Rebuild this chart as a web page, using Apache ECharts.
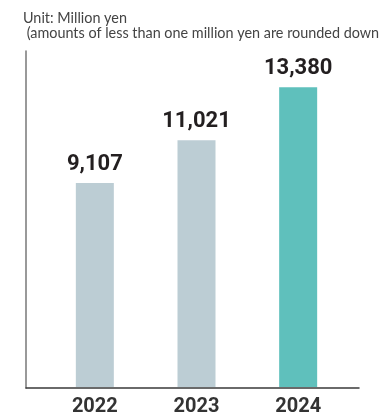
<!DOCTYPE html>
<html>
<head>
<meta charset="utf-8">
<script src="https://cdn.jsdelivr.net/npm/echarts@6/dist/echarts.min.js"></script>
<style>
html,body{margin:0;padding:0;background:#fff;}
#c{width:379px;height:417px;}
</style>
</head>
<body>
<div id="c"></div>
<script>
const categories = ['2022', '2023', '2024'];
const values = [9107, 11021, 13380];
const barColors = ['#bccdd4', '#bccdd4', '#5fc0bc'];
const unitTitle = 'Unit: Million yen';
const unitNote = ' (amounts of less than one million yen are rounded down)';

const chart = echarts.init(document.getElementById('c'), null, {renderer: 'canvas'});
chart.setOption({
  animation: false,
  backgroundColor: '#fff',
  title: {
    text: unitTitle + '\n' + unitNote,
    left: 23,
    top: 11,
    padding: 0,
    textStyle: {
      fontFamily: 'Lato',
      fontSize: 14.4,
      fontWeight: 'normal',
      color: '#444',
      lineHeight: 15
    }
  },
  grid: [
    {left: 26, right: 20, top: 51, bottom: 29},
    {left: 44, right: 30, top: 51, bottom: 29}
  ],
  xAxis: [
    {
      gridIndex: 0, type: 'value', min: 0, max: 1,
      axisLine: {show: true, lineStyle: {color: '#3a3a3a', width: 1.5}},
      axisTick: {show: false}, axisLabel: {show: false}, splitLine: {show: false}
    },
    {
      gridIndex: 1, type: 'category', data: categories,
      axisLine: {show: false}, axisTick: {show: false},
      axisLabel: {
        margin: 10,
        fontFamily: 'Roboto', fontWeight: 'bold', fontSize: 20, color: '#333'
      }
    }
  ],
  yAxis: [
    {
      gridIndex: 0, type: 'value', min: 0, max: 15000,
      axisLine: {show: true, lineStyle: {color: '#777', width: 1.5}},
      axisTick: {show: false}, axisLabel: {show: false}, splitLine: {show: false}
    },
    {
      gridIndex: 1, type: 'value', min: 0, max: 15000,
      axisLine: {show: false}, axisTick: {show: false},
      axisLabel: {show: false}, splitLine: {show: false}
    }
  ],
  series: [{
    type: 'bar',
    xAxisIndex: 1,
    yAxisIndex: 1,
    barWidth: 38,
    data: values.map((v, i) => ({value: v, itemStyle: {color: barColors[i]}})),
    label: {
      show: true,
      position: 'top',
      distance: 8,
      fontFamily: 'Roboto',
      fontWeight: 'bold',
      fontSize: 22,
      color: '#231f20',
      formatter: p => p.value.toLocaleString('en-US')
    }
  }]
});
</script>
</body>
</html>
